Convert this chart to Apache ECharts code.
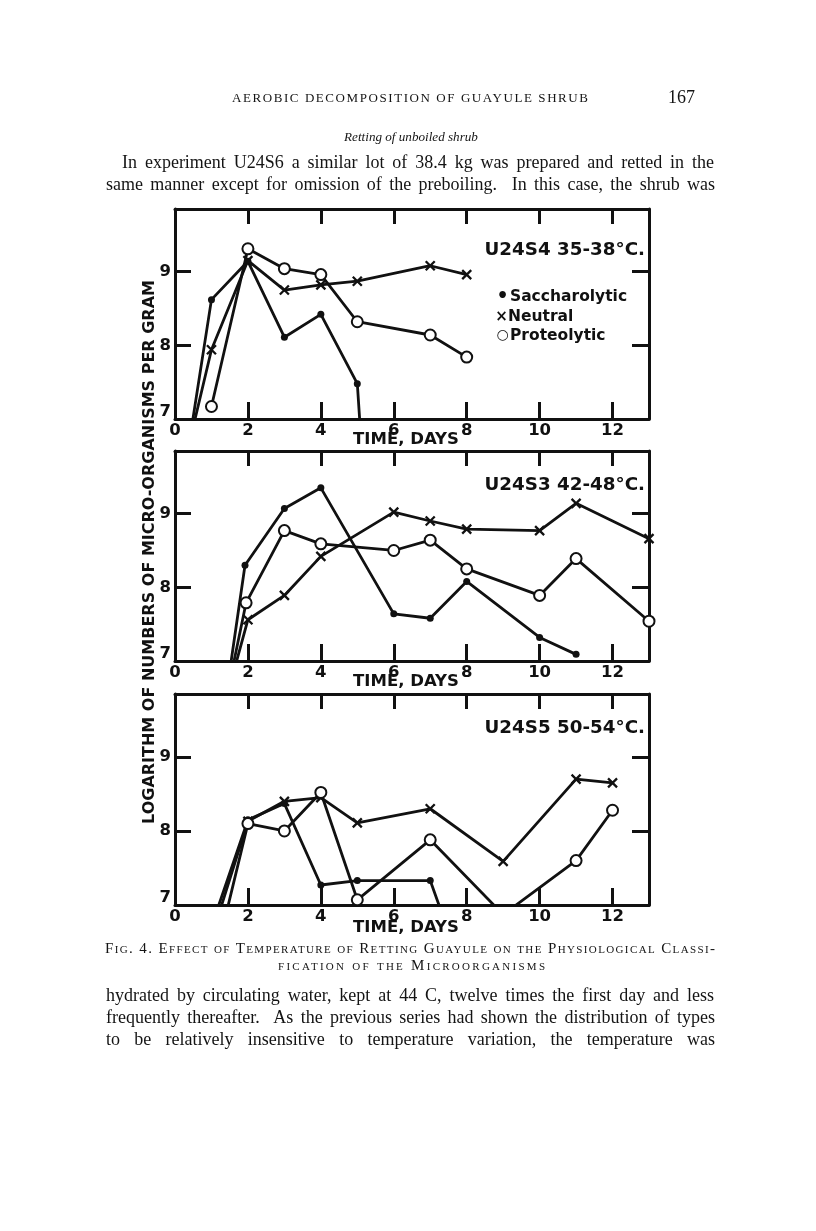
<!DOCTYPE html>
<html><head><meta charset="utf-8">
<script src="https://cdn.jsdelivr.net/npm/echarts@6/dist/echarts.min.js"></script>
<style>
html,body{margin:0;padding:0;background:#fff;}
#wrap{position:relative;width:816px;height:1231px;overflow:hidden;}
#chart{position:absolute;left:0;top:0;width:816px;height:1231px;}
.t{position:absolute;white-space:pre;color:#141414;}
</style></head><body>
<div id="wrap"><div id="chart"></div></div>
<script>
// ---------------- data ----------------
const panelTitles = ['U24S4 35-38°C.', 'U24S3 42-48°C.', 'U24S5 50-54°C.'];
const seriesNames = ['Saccharolytic', 'Neutral', 'Proteolytic'];
const legendMarks = ['•', '×', '○'];
const xTickLabels = [0, 2, 4, 6, 8, 10, 12];
const yTickLabels = [7, 8, 9];
const xAxisName = 'TIME, DAYS';
const yAxisName = 'LOGARITHM OF NUMBERS OF MICRO-ORGANISMS PER GRAM';

// [day, log10 count]; values below 7 lie under the plotted range
const u24s4_sacch   = [[0, 5.44], [1, 8.62], [2, 9.14], [3, 8.11], [4, 8.42], [5, 7.48], [6, 0]];
const u24s4_neutral = [[0, 5.85], [1, 7.94], [2, 9.15], [3, 8.75], [4, 8.82], [5, 8.87], [7, 9.08], [8, 8.96]];
const u24s4_proteo  = [[1, 7.17], [2, 9.31], [3, 9.04], [4, 8.96], [5, 8.32], [7, 8.14], [8, 7.84]];

const u24s3_sacch   = [[1, 5.15], [1.92, 8.3], [3, 9.07], [4, 9.35], [6, 7.64], [7, 7.58], [8, 8.08], [10, 7.32], [11, 7.09]];
const u24s3_neutral = [[1, 5.75], [2, 7.56], [3, 7.89], [4, 8.42], [6, 9.02], [7, 8.9], [8, 8.79], [10, 8.77], [11, 9.14], [13, 8.66]];
const u24s3_proteo  = [[1, 5.52], [1.95, 7.79], [3, 8.77], [4, 8.59], [6, 8.5], [7, 8.64], [8, 8.25], [10, 7.89], [11, 8.39], [13, 7.54]];

const u24s5_sacch   = [[1, 6.71], [2, 8.15], [3, 8.37], [4, 7.27], [5, 7.33], [7, 7.33], [8, 5.95]];
const u24s5_neutral = [[1, 6.56], [2, 8.13], [3, 8.4], [4, 8.45], [5, 8.11], [7, 8.3], [9, 7.59], [11, 8.7], [12, 8.65]];
const u24s5_proteo  = [[1, 6.06], [2, 8.1], [3, 8.0], [4, 8.52], [5, 7.07], [7, 7.88], [9, 6.87], [11, 7.6], [12, 8.28]];

const pageHeader = 'AEROBIC DECOMPOSITION OF GUAYULE SHRUB';
const pageNumber = '167';
const sectionTitle = 'Retting of unboiled shrub';
const paraTop = [
  'In experiment U24S6 a similar lot of 38.4 kg was prepared and retted in the',
  'same manner except for omission of the preboiling.  In this case, the shrub was'
];
const captionLines = [
  'Fig. 4. Effect of Temperature of Retting Guayule on the Physiological Classi-',
  'fication of the Microorganisms'
];
const paraBottom = [
  'hydrated by circulating water, kept at 44 C, twelve times the first day and less',
  'frequently thereafter.  As the previous series had shown the distribution of types',
  'to be relatively insensitive to temperature variation, the temperature was'
];

// ---------------- chart ----------------
const FONT = 'DejaVu Sans';
const INK = '#111111';
const panels = [
  { top: 209, height: 210, nameGap: 12, titleTop: 241, data: [u24s4_sacch, u24s4_neutral, u24s4_proteo] },
  { top: 451, height: 210, nameGap: 12, titleTop: 476, data: [u24s3_sacch, u24s3_neutral, u24s3_proteo] },
  { top: 694, height: 211, nameGap: 14, titleTop: 719, data: [u24s5_sacch, u24s5_neutral, u24s5_proteo] }
];
const symbols = [
  { symbol: 'circle', symbolSize: 7, itemStyle: { color: INK, borderWidth: 0 } },
  { symbol: 'path://M0,0L10,10M10,0L0,10', symbolSize: 9, itemStyle: { color: INK, borderColor: INK, borderWidth: 2.3 } },
  { symbol: 'emptyCircle', symbolSize: 11, itemStyle: { color: INK, borderColor: INK, borderWidth: 2.3 } }
];

const grid = [], xAxis = [], yAxis = [], series = [], title = [];
const boldLabel = { color: INK, fontSize: 16.5, fontWeight: 'bold', fontFamily: FONT };
panels.forEach((p, i) => {
  grid.push({ left: 175, width: 474, top: p.top, height: p.height, containLabel: false, outerBoundsMode: 'none' });
  title.push({ text: panelTitles[i], right: 171, top: p.titleTop, padding: 0,
    textStyle: { color: INK, fontSize: 18.3, fontWeight: 'bold', fontFamily: FONT } });
  const line = { show: true, onZero: false, lineStyle: { color: INK, width: 3 } };
  xAxis.push({
    type: 'value', gridIndex: i, position: 'bottom', min: 0, max: 13, interval: 2,
    axisLine: line,
    axisTick: { show: true, inside: true, length: 17, lineStyle: { color: INK, width: 3 } },
    axisLabel: Object.assign({ margin: 3, showMaxLabel: false,
      formatter: v => xTickLabels.includes(v) ? String(v) : '' }, boldLabel),
    splitLine: { show: false },
    name: xAxisName, nameLocation: 'middle', nameGap: p.nameGap, nameMoveOverlap: false,
    nameTextStyle: { color: INK, fontSize: 16.5, fontWeight: 'bold', fontFamily: FONT, padding: [0, 12, 0, 0] }
  });
  xAxis.push({
    type: 'value', gridIndex: i, position: 'top', min: 0, max: 13, interval: 2,
    axisLine: line,
    axisTick: { show: true, inside: true, length: 15, lineStyle: { color: INK, width: 3 } },
    axisLabel: { show: false }, splitLine: { show: false }
  });
  const yl = {
    type: 'value', gridIndex: i, position: 'left', min: 7, max: 9.85, interval: 1,
    axisLine: line,
    axisTick: { show: true, inside: true, length: 16, lineStyle: { color: INK, width: 3 } },
    axisLabel: Object.assign({ margin: 4, showMaxLabel: false,
      formatter: v => v === yTickLabels[0] ? '{r|' + v + '}' : (yTickLabels.includes(v) ? String(v) : ''),
      rich: { r: { color: INK, fontSize: 16.5, fontWeight: 'bold', fontFamily: FONT, padding: [0, 0, 15, 0] } }
    }, boldLabel),
    splitLine: { show: false }
  };
  if (i === 1) {
    Object.assign(yl, { name: yAxisName, nameLocation: 'middle', nameRotate: 90, nameGap: 17, nameMoveOverlap: false,
      nameTextStyle: { color: INK, fontSize: 16, fontWeight: 'bold', fontFamily: FONT, padding: [0, 0, 0, 8] } });
  }
  yAxis.push(yl);
  yAxis.push({
    type: 'value', gridIndex: i, position: 'right', min: 7, max: 9.85, interval: 1,
    axisLine: line,
    axisTick: { show: true, inside: true, length: 17, lineStyle: { color: INK, width: 3 } },
    axisLabel: { show: false }, splitLine: { show: false }
  });
  p.data.forEach((d, k) => {
    series.push(Object.assign({
      type: 'line', name: seriesNames[k], xAxisIndex: 2 * i, yAxisIndex: 2 * i,
      data: d, clip: true, showAllSymbol: true, symbolKeepAspect: true, z: 2 + k,
      lineStyle: { color: INK, width: 2.8 },
      emphasis: { disabled: true }, animation: false
    }, symbols[k]));
  });
});

const legendRich = {
  t: { color: INK, fontSize: 15.5, fontWeight: 'bold', fontFamily: FONT, lineHeight: 20 },
  m0: { color: INK, fontSize: 19, fontWeight: 'bold', fontFamily: FONT, width: 15, align: 'center', lineHeight: 20 },
  m1: { color: INK, fontSize: 15, fontWeight: 'bold', fontFamily: FONT, width: 13, align: 'center', lineHeight: 20 },
  m2: { color: INK, fontSize: 14, fontWeight: 'bold', fontFamily: FONT, width: 15, align: 'center', lineHeight: 20 }
};

const chart = echarts.init(document.getElementById('chart'), null, { renderer: 'canvas' });
chart.setOption({
  backgroundColor: '#ffffff',
  animation: false,
  title, grid, xAxis, yAxis, series,
  legend: {
    orient: 'vertical', left: 490, top: 287, icon: 'none', itemWidth: 0, itemHeight: 20, itemGap: 0.5,
    padding: 0, data: seriesNames,
    formatter: n => '{m' + seriesNames.indexOf(n) + '|' + legendMarks[seriesNames.indexOf(n)] + '}{t|' + n + '}',
    textStyle: { color: INK, rich: legendRich }
  }
});

// ---------------- page text ----------------
const wrap = document.getElementById('wrap');
const body = "18px 'Liberation Serif'";
const textLines = [
  { text: pageHeader, left: 232, width: 356, cy: 98, font: "13px 'Liberation Serif'", fit: 'letter' },
  { text: pageNumber, left: 668, cy: 98, font: "18px 'Liberation Serif'" },
  { text: sectionTitle, center: 411, width: 134, cy: 137, font: "italic 16px 'Liberation Serif'", fit: 'size' },
  { text: paraTop[0], left: 122, width: 592, cy: 163, font: body, fit: 'word' },
  { text: paraTop[1], left: 106, width: 609, cy: 185, font: body, fit: 'word' },
  { text: captionLines[0], left: 105, width: 610, cy: 949, font: "small-caps 15px 'Liberation Serif'", fit: 'letter' },
  { text: captionLines[1], left: 278, width: 267, cy: 966, font: "small-caps 15px 'Liberation Serif'", fit: 'letter' },
  { text: paraBottom[0], left: 106, width: 608, cy: 996, font: body, fit: 'word' },
  { text: paraBottom[1], left: 106, width: 609, cy: 1018, font: body, fit: 'word' },
  { text: paraBottom[2], left: 106, width: 609, cy: 1040, font: body, fit: 'word' }
];
textLines.forEach(L => {
  const d = document.createElement('div');
  d.className = 't';
  d.textContent = L.text;
  d.style.font = L.font;
  d.style.lineHeight = '1';
  d.style.left = '0px'; d.style.top = '0px';
  wrap.appendChild(d);
  let size = parseFloat(L.font.match(/([\d.]+)px/)[1]);
  const w = d.getBoundingClientRect().width;
  if (L.fit === 'word') {
    const n = (L.text.match(/ /g) || []).length;
    d.style.wordSpacing = ((L.width - w) / n) + 'px';
  } else if (L.fit === 'letter') {
    d.style.letterSpacing = ((L.width - w) / (L.text.length - 1)) + 'px';
  } else if (L.fit === 'size') {
    size = size * L.width / w;
    d.style.fontSize = size + 'px';
  }
  const w2 = d.getBoundingClientRect().width;
  const left = L.center != null ? L.center - w2 / 2 : L.left;
  d.style.left = left + 'px';
  d.style.top = (L.cy - size * 0.55) + 'px';
});
</script>
</body></html>
